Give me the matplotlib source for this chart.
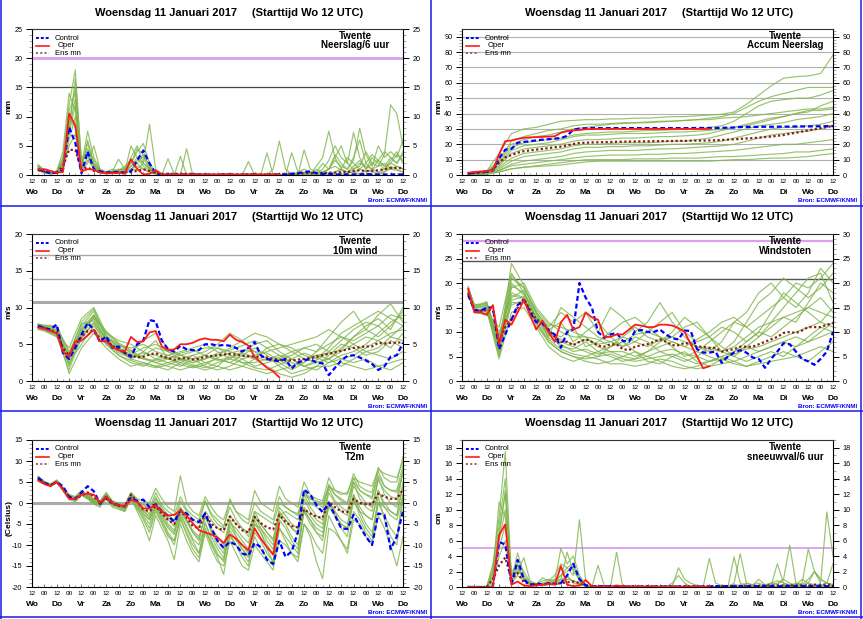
import numpy as np
import matplotlib
matplotlib.use("Agg")
import matplotlib.pyplot as plt
from matplotlib.lines import Line2D
from matplotlib.ticker import MultipleLocator

plt.rcParams['font.family'] = ['Liberation Sans', 'DejaVu Sans']
plt.rcParams['axes.unicode_minus'] = False

W, H = 863, 619

# ---------------- time axes ----------------
hours = np.arange(6, 361, 6)          # 6-hourly steps, +6h .. +360h
hours_oper = hours[:40]                # oper runs to +240h
hours_coarse = [6, 12, 24, 36, 48, 60, 72, 84, 96, 108, 120, 132, 144, 156, 168, 180,
                192, 204, 216, 228, 240, 252, 264, 276, 288, 300, 312, 324, 336, 348, 360]
hour_tick_pos = list(range(0, 361, 12))
hour_tick_labels = ['12', '00', '12', '00', '12', '00', '12', '00', '12', '00', '12', '00',
                    '12', '00', '12', '00', '12', '00', '12', '00', '12', '00', '12', '00',
                    '12', '00', '12', '00', '12', '00', '12']
day_pos = list(range(0, 361, 24))
day_labels = ['Wo', 'Do', 'Vr', 'Za', 'Zo', 'Ma', 'Di', 'Wo', 'Do', 'Vr', 'Za', 'Zo',
              'Ma', 'Di', 'Wo', 'Do']

# ---------------- Neerslag / 6 uur (mm) ----------------
precip_control = [1.0, 0.6, 0.3, 0.4, 0.8, 8.2, 5.5, 0.3, 4.0, 1.0,
                  0.6, 0.4, 0.5, 0.5, 0.4, 0.6, 2.5, 4.2, 2.0, 0.3,
                  0.1, 0.1, 0.1, 0.1, 0.1, 0.1, 0.1, 0.1, 0.0, 0.0,
                  0.1, 0.1, 0.0, 0.0, 0.1, 0.1, 0.0, 0.0, 0.1, 0.1,
                  0.1, 0.2, 0.3, 0.5, 0.6, 0.3, 0.2, 0.2, 0.1, 0.1,
                  0.1, 0.1, 0.1, 0.2, 0.1, 0.1, 0.1, 0.1, 0.1, 0.1]
precip_oper = [0.9, 1.0, 0.7, 0.4, 0.5, 10.5, 8.5, 0.6, 1.0, 0.9,
               0.4, 0.3, 0.3, 0.4, 0.2, 2.7, 1.0, 0.1, 0.2, 0.8,
               0.1, 0.1, 0.1, 0.1, 0.1, 0.1, 0.1, 0.1, 0.1, 0.1,
               0.1, 0.1, 0.1, 0.1, 0.1, 0.1, 0.1, 0.1, 0.1, 0.1]
precip_mean = [0.8, 0.6, 0.4, 0.4, 1.5, 4.3, 4.3, 1.0, 1.3, 0.7,
               0.5, 0.4, 0.4, 0.4, 0.5, 0.5, 0.7, 1.0, 0.7, 0.3,
               0.2, 0.2, 0.2, 0.2, 0.2, 0.2, 0.1, 0.1, 0.1, 0.1,
               0.1, 0.1, 0.1, 0.1, 0.1, 0.1, 0.1, 0.1, 0.1, 0.1,
               0.2, 0.2, 0.2, 0.3, 0.3, 0.3, 0.3, 0.4, 0.4, 0.5,
               0.5, 0.7, 0.8, 0.7, 0.7, 0.8, 1.0, 1.2, 1.2, 1.2]
precip_members = [
    [1.8, 0.8, 0.3, 0.6, 3.0, 12.0, 18.0, 2.0, 4.0, 1.5,
     0.8, 0.5, 0.6, 1.0, 0.8, 1.5, 3.0, 2.0, 8.7, 1.0,
     0.2, 0, 0, 0, 0, 0, 0, 0, 0, 0,
     0, 0, 0, 0, 0, 0.3, 0, 0, 1.0, 5.8,
     1.0, 0.2, 0.3, 0.5, 0.2, 1.5, 3.0, 7.5, 3.0, 1.0,
     0.5, 1.5, 2.5, 1.0, 2.0, 1.5, 3.5, 12.0, 10.5, 5.0],
    [1.2, 0.5, 0.2, 0.4, 2.0, 9.0, 15.0, 1.5, 7.5, 3.0,
     1.0, 0.4, 0.5, 0.7, 1.2, 2.0, 4.0, 5.4, 2.0, 0.5,
     0, 2.8, 0.2, 0, 0, 0, 0, 0, 0, 0,
     0, 0.2, 0, 0, 0, 0, 0, 0, 0, 0,
     0, 3.8, 0.5, 0.3, 0.2, 0.5, 2.0, 1.0, 3.0, 5.0,
     2.0, 7.3, 3.0, 1.0, 3.0, 2.0, 1.0, 2.5, 4.0, 2.0],
    [0.9, 0.4, 0.2, 0.3, 1.5, 7.0, 12.0, 1.0, 3.0, 2.0,
     0.5, 0.3, 0.4, 0.5, 0.6, 5.0, 3.0, 1.5, 0.8, 0.2,
     0, 0, 0, 0, 4.5, 0, 0, 0, 0, 0,
     0, 0, 0, 0, 2.3, 0, 0, 3.8, 0, 0,
     0, 0, 0, 4.3, 1.0, 0.5, 0.3, 1.0, 2.5, 1.5,
     1.0, 2.5, 8.0, 3.5, 1.5, 5.0, 3.0, 4.0, 3.0, 6.0],
    [1.4, 0.6, 0.3, 0.5, 2.5, 10.0, 8.0, 1.2, 5.5, 1.5,
     0.6, 0.3, 0.6, 2.7, 1.0, 1.0, 1.5, 1.0, 0.5, 0.3,
     0.1, 0, 0, 3.2, 0, 0, 0, 0, 0, 0,
     0.2, 0, 0, 0, 0, 0, 0, 0, 0, 0,
     0, 0, 0, 0, 0.5, 0.3, 1.0, 2.5, 5.0, 3.0,
     2.0, 1.0, 1.5, 4.0, 2.0, 2.5, 1.5, 2.0, 3.5, 2.5],
    [1.0, 0.5, 0.3, 0.4, 1.2, 6.0, 10.0, 0.8, 2.0, 5.0,
     1.0, 0.5, 0.3, 0.4, 0.5, 1.0, 2.0, 1.0, 0.5, 0.1,
     0, 0, 0, 0, 0, 0, 0, 0, 0, 0,
     0, 0, 0, 0, 0, 0, 0, 0, 0, 0,
     0, 0, 0, 0, 0, 0.2, 0.5, 1.0, 1.5, 0.8,
     0.5, 0.5, 1.0, 2.0, 1.0, 1.5, 2.0, 1.0, 1.5, 1.0],
    [1.6, 0.7, 0.4, 0.7, 4.0, 14.0, 11.0, 3.0, 3.5, 1.0,
     0.7, 0.6, 1.0, 0.6, 0.8, 3.0, 5.0, 2.0, 1.0, 0.4,
     0.1, 0, 0, 0, 0, 0, 0, 0, 0, 0,
     0, 0, 0, 0, 0, 0, 0, 0, 0, 0,
     0, 0, 0, 0, 0, 0, 0, 0, 0.5, 1.0,
     3.0, 2.0, 1.0, 0.5, 1.0, 2.5, 4.0, 3.0, 2.0, 3.5],
    [0.8, 0.3, 0.2, 0.3, 1.0, 5.0, 7.0, 0.7, 2.5, 1.2,
     0.4, 0.2, 0.3, 0.4, 0.4, 0.8, 1.0, 2.0, 1.2, 0.3,
     0, 0, 0, 0, 0, 0, 0, 0, 0, 0,
     0, 0, 0, 0, 0, 0, 0, 0, 0, 0,
     0, 0, 0, 0, 0, 0, 0, 0, 0, 0,
     0.3, 0.5, 0.2, 0.8, 0.5, 0.3, 0.6, 1.0, 0.8, 0.5],
    [1.3, 0.6, 0.3, 0.5, 2.2, 8.0, 13.0, 1.8, 4.5, 2.5,
     0.8, 0.4, 0.5, 0.8, 1.5, 2.5, 2.0, 3.5, 1.5, 0.3,
     0, 0, 0, 0, 0, 0, 0, 0, 0, 0,
     0, 0, 0, 0, 0, 0, 0, 0, 0, 0,
     0, 0, 0, 0, 0, 0, 0, 0, 0, 0,
     0, 0, 0, 0, 0, 0, 0.5, 1.5, 1.0, 0.5],
    [1.1, 0.5, 0.3, 0.4, 1.8, 11.0, 14.0, 1.0, 6.0, 2.0,
     0.5, 0.3, 0.4, 0.6, 0.5, 1.5, 2.5, 3.0, 1.0, 0.2,
     0, 0, 0, 0, 0, 0, 0, 0, 0, 0,
     0, 0, 0, 0, 0, 0, 0, 0, 0, 0,
     0, 0, 0.5, 1.0, 0.5, 0.2, 0.5, 1.0, 3.5, 2.0,
     1.0, 3.0, 6.0, 2.0, 3.5, 2.5, 1.5, 3.0, 2.0, 4.0],
    [1.5, 0.7, 0.4, 0.6, 2.8, 7.5, 16.5, 2.5, 3.5, 1.8,
     0.9, 0.5, 0.7, 0.9, 1.0, 2.0, 4.5, 3.5, 1.5, 0.4,
     0, 0, 0, 0, 0, 0, 0, 0, 0, 0,
     0, 0, 0, 0, 0, 0, 0, 0, 0, 0,
     0, 0, 0, 0, 0, 1.0, 0.5, 0.3, 0.5, 1.0,
     0.5, 1.0, 2.0, 1.5, 1.0, 0.5, 1.0, 2.0, 1.5, 1.0],
]

# ---------------- Accum Neerslag (mm) ----------------
accum_control = [1.0, 1.5, 2.0, 2.3, 3.0, 11.0, 16.5, 17.0, 21.0, 21.5,
                 22.0, 22.5, 23.0, 23.3, 23.7, 24.0, 25.5, 29.5, 30.2, 30.4,
                 30.5, 30.5, 30.5, 30.5, 30.5, 30.5, 30.5, 30.5, 30.5, 30.5,
                 30.5, 30.5, 30.5, 30.5, 30.5, 30.5, 30.5, 30.6, 30.6, 30.6,
                 30.6, 30.7, 30.8, 30.9, 31.2, 31.3, 31.3, 31.3, 31.4, 31.4,
                 31.4, 31.5, 31.5, 31.6, 31.6, 31.6, 31.7, 31.7, 31.8, 31.8]
accum_oper = [1.5, 2.0, 2.3, 2.7, 3.0, 13.5, 22.0, 22.5, 23.5, 24.2,
              24.5, 24.6, 24.8, 25.0, 25.2, 27.5, 28.5, 29.0, 29.3, 29.8,
              29.9, 30.0, 30.0, 30.0, 30.0, 30.0, 30.0, 30.0, 30.0, 30.0,
              30.0, 30.0, 30.0, 30.0, 30.0, 30.0, 30.0, 30.0, 30.0, 30.0]
accum_mean = [0.8, 1.3, 1.6, 2.0, 3.5, 8.0, 11.5, 13.0, 14.5, 15.5,
              16.0, 16.5, 17.0, 17.5, 18.0, 18.5, 19.2, 20.2, 20.8, 21.0,
              21.2, 21.3, 21.4, 21.5, 21.6, 21.7, 21.8, 21.8, 21.9, 21.9,
              22.0, 22.0, 22.1, 22.1, 22.2, 22.2, 22.3, 22.4, 22.4, 22.5,
              22.6, 22.8, 23.0, 23.2, 23.5, 23.8, 24.0, 24.3, 24.7, 25.0,
              25.5, 26.0, 26.8, 27.5, 28.3, 29.0, 29.8, 30.5, 31.2, 32.0]
accum_members = [
    [1.0, 1.5, 2.5, 14, 27, 30, 31, 33, 35, 35.5, 36, 36, 36.5, 36.5, 37, 37, 37.5, 38, 38, 38.5, 39, 39.5, 41, 46, 52, 58, 63, 64, 64.5, 66, 78],
    [0.8, 1, 2, 9, 20, 23, 25, 26, 28, 30, 31, 32, 33, 33.5, 34, 34, 34.5, 35, 35.5, 36, 37, 38, 40, 44, 48, 51, 53, 55, 57, 57, 57],
    [0.8, 1, 2, 8, 18, 21, 22, 23, 24, 26, 27, 27.5, 28, 28, 28.5, 29, 29, 29.5, 30, 30, 31, 32, 35, 40, 45, 48, 49, 50, 50, 52, 55],
    [0.4, 0.5, 1.5, 6, 14, 17, 18, 19, 20, 22, 23, 23, 23.5, 24, 24, 24.5, 25, 25, 25.5, 26, 27, 29, 31, 33, 35, 37, 38, 40, 42, 42, 43],
    [0.4, 0.5, 1.5, 5, 11, 14, 15, 16, 17, 19, 20, 20, 20.5, 21, 21, 21, 21.5, 22, 22, 23, 24, 26, 28, 30, 32, 33, 34, 36, 37, 38, 40],
    [0.4, 0.5, 1, 4, 9, 12, 13, 14, 15, 17, 18, 18, 18.5, 18.5, 19, 19, 19.5, 20, 20, 20.5, 21, 22, 24, 26, 28, 30, 31, 31, 32, 33, 35],
    [0.3, 0.5, 1, 3, 7, 9, 10, 11, 12, 14, 15, 15.5, 16, 16, 16, 16.5, 17, 17, 17.5, 18, 18.5, 19, 20, 22, 24, 26, 27, 28, 28.5, 30, 32],
    [0.2, 0.3, 1, 3, 6, 7, 8, 9, 10, 11, 12, 12.5, 13, 13, 13, 13.5, 13.5, 14, 14, 14.5, 15, 15.5, 16, 17, 18, 19, 20, 20, 21, 22, 23],
    [0.2, 0.3, 0.8, 2, 4, 5, 6, 7, 8, 9, 10, 10, 10, 10, 10.5, 10.5, 10.5, 11, 11, 11, 11.5, 12, 12, 12.5, 13, 13.5, 14, 15, 15, 16, 17],
    [0.1, 0.2, 0.5, 2, 4, 5, 5.5, 6, 6.5, 7.5, 8.5, 9, 9, 9, 9, 9, 9, 9, 9, 9, 9, 9.5, 10, 10, 10.5, 11, 11, 11.5, 12, 13, 14],
    [0.8, 1, 2, 10, 22, 25, 27, 29, 30, 32, 33, 33, 33.5, 34, 34, 34.5, 35, 35, 35.5, 36, 36, 37, 37.5, 38, 39, 40, 41, 42, 43, 43, 44],
    [0.6, 0.8, 1.8, 7, 16, 19, 20, 21, 23, 25, 26, 26, 26.5, 27, 27, 27, 27.5, 28, 28, 28.5, 29, 30, 31, 32, 34, 36, 38, 40, 41, 45, 48],
]

# ---------------- 10m wind (m/s) ----------------
wind_control = [7.5, 7.2, 7.0, 7.7, 3.8, 3.0, 4.5, 6.3, 7.9, 7.0,
                5.3, 6.1, 4.5, 4.7, 3.8, 3.3, 5.0, 5.5, 8.3, 8.1,
                5.5, 4.3, 4.0, 4.8, 4.3, 4.2, 4.2, 5.0, 5.0, 4.8,
                4.9, 4.8, 4.5, 4.0, 4.5, 5.3, 3.5, 3.0, 2.8, 2.7,
                3.0, 1.7, 2.5, 2.8, 3.0, 2.5, 2.4, 0.8, 1.8, 2.8,
                3.4, 3.5, 3.2, 2.8, 2.3, 1.5, 2.0, 3.3, 3.5, 5.2]
wind_oper = [7.3, 7.1, 6.8, 6.5, 4.0, 3.3, 5.4, 5.5, 6.2, 7.0,
             5.4, 5.4, 4.6, 4.2, 4.0, 6.0, 5.3, 5.4, 6.6, 6.8,
             4.7, 4.2, 4.3, 5.0, 5.0, 5.2, 5.6, 5.8, 5.6, 5.6,
             5.4, 6.3, 5.6, 5.3, 4.8, 3.3, 2.5, 1.8, 1.3, 0.5]
wind_mean = [7.4, 7.2, 6.9, 6.6, 4.5, 3.5, 5.0, 6.0, 6.8, 6.8,
             5.8, 5.5, 4.8, 4.3, 3.8, 3.5, 3.2, 3.3, 3.6, 3.8,
             3.4, 3.1, 2.9, 3.1, 3.1, 2.9, 3.0, 3.3, 3.4, 3.5,
             3.6, 3.7, 3.6, 3.4, 3.4, 3.3, 3.3, 3.2, 3.0, 2.9,
             2.8, 2.8, 2.9, 3.0, 3.1, 3.3, 3.5, 3.7, 3.9, 4.1,
             4.3, 4.5, 4.6, 4.7, 4.7, 5.2, 5.1, 5.2, 5.2, 5.3]
wind_members = [
    [7.6, 7.4, 7.0, 2.0, 7.5, 9.5, 6.0, 4.5, 3.0, 4.0, 5.5, 3.0, 2.5, 3.5, 4.0, 5.0, 6.5, 5.5, 4.0, 3.0, 2.5, 1.5, 2.5, 4.0, 6.0, 8.0, 9.5, 7.0, 9.0, 10.5, 8.0],
    [7.2, 7.0, 6.5, 4.5, 8.5, 10.0, 6.5, 5.0, 4.0, 5.5, 6.5, 4.5, 3.5, 3.0, 3.5, 4.5, 4.0, 3.5, 3.0, 4.5, 5.0, 4.0, 3.0, 2.5, 3.0, 4.5, 6.0, 7.5, 8.5, 7.0, 10.0],
    [7.8, 7.5, 7.2, 3.0, 6.0, 8.0, 5.5, 4.0, 3.5, 3.0, 2.5, 2.0, 1.5, 2.0, 2.5, 3.0, 2.5, 2.0, 1.5, 1.0, 1.5, 2.0, 3.0, 3.5, 3.0, 4.0, 5.0, 6.0, 5.5, 4.5, 6.5],
    [7.0, 6.8, 6.0, 3.5, 5.5, 7.0, 5.0, 3.5, 2.5, 2.0, 3.0, 3.5, 4.0, 4.5, 5.0, 4.0, 3.0, 4.0, 5.0, 5.5, 4.0, 3.0, 2.0, 1.5, 2.5, 3.5, 4.0, 5.0, 6.5, 8.0, 9.0],
    [7.5, 7.3, 6.8, 1.0, 4.5, 6.5, 4.5, 3.0, 2.0, 2.5, 2.0, 1.5, 2.5, 2.0, 1.5, 2.0, 3.5, 3.0, 2.0, 2.5, 3.0, 3.5, 4.5, 5.0, 4.0, 3.0, 2.5, 3.0, 2.0, 1.5, 2.5],
    [7.7, 7.6, 7.5, 4.0, 7.0, 8.5, 5.8, 4.8, 4.5, 5.0, 4.0, 3.5, 3.0, 2.5, 3.0, 3.5, 4.5, 5.5, 6.5, 6.0, 5.0, 4.5, 3.5, 3.0, 4.5, 6.5, 7.5, 8.5, 9.5, 8.5, 7.5],
    [7.3, 7.1, 6.3, 3.0, 6.5, 9.0, 6.5, 5.5, 5.0, 4.0, 3.0, 2.5, 2.0, 3.0, 3.5, 3.0, 2.5, 3.5, 4.5, 3.5, 2.0, 1.0, 1.5, 2.0, 3.5, 5.0, 4.5, 3.5, 4.0, 5.5, 4.5],
    [7.4, 7.2, 6.6, 2.5, 5.0, 7.5, 5.2, 3.8, 3.2, 3.5, 4.5, 4.0, 3.5, 4.0, 4.5, 4.5, 3.5, 2.5, 2.5, 3.0, 3.5, 3.0, 2.0, 2.5, 3.0, 2.0, 3.0, 4.0, 3.5, 3.0, 4.0],
    [7.6, 7.3, 6.9, 3.5, 8.0, 9.8, 6.0, 5.0, 3.8, 3.2, 2.5, 3.0, 3.5, 3.0, 2.0, 1.5, 2.0, 3.0, 3.5, 4.0, 4.5, 5.0, 5.5, 6.0, 7.0, 6.0, 5.5, 6.5, 7.5, 9.0, 8.5],
    [7.1, 6.9, 6.2, 2.8, 6.8, 8.8, 5.5, 4.2, 3.0, 2.5, 2.0, 2.5, 3.0, 3.5, 2.5, 2.0, 1.5, 2.0, 3.0, 2.0, 1.0, 0.5, 1.0, 2.0, 2.0, 2.5, 2.0, 1.5, 2.0, 2.5, 3.0],
    [7.5, 7.3, 6.7, 3.2, 7.2, 9.0, 6.2, 4.6, 3.6, 4.5, 5.0, 4.0, 3.0, 2.5, 3.0, 3.8, 4.2, 4.8, 5.5, 4.5, 3.5, 2.5, 2.0, 2.8, 4.0, 5.5, 7.0, 8.0, 7.5, 6.0, 5.5],
    [7.3, 7.2, 6.4, 2.2, 5.8, 7.8, 5.0, 3.5, 2.8, 2.2, 1.8, 2.2, 2.8, 2.2, 1.8, 2.5, 3.0, 2.5, 1.8, 1.5, 2.2, 3.0, 3.8, 3.2, 2.5, 3.0, 3.5, 4.5, 5.5, 6.5, 7.0],
    [7.6, 7.5, 7.3, 3.8, 7.8, 8.2, 5.6, 4.4, 3.4, 3.8, 3.5, 3.0, 3.8, 4.2, 3.5, 2.8, 3.2, 3.8, 3.2, 2.8, 3.2, 4.0, 4.5, 4.0, 5.0, 6.0, 5.0, 4.0, 4.5, 6.0, 7.5],
    [7.2, 7.0, 6.1, 1.5, 6.2, 8.6, 6.8, 5.2, 4.2, 3.0, 2.8, 3.2, 2.2, 1.8, 2.2, 3.2, 3.8, 4.2, 4.0, 3.8, 2.8, 2.0, 2.6, 3.5, 3.8, 4.2, 6.0, 7.0, 6.0, 7.5, 9.5],
]

# ---------------- Windstoten (m/s) ----------------
gust_control = [17.5, 14.5, 14.3, 15.0, 15.0, 6.5, 9.5, 12.5, 15.5, 16.5,
                14.0, 12.0, 11.8, 10.3, 9.5, 6.8, 10.0, 10.5, 20.0, 17.0,
                15.0, 10.0, 8.8, 9.5, 9.8, 8.2, 8.0, 10.2, 10.4, 10.0,
                10.0, 10.5, 9.5, 8.7, 8.5, 10.3, 10.2, 6.5, 5.8, 5.8,
                6.0, 3.7, 5.0, 5.8, 6.3, 5.8, 4.8, 4.5, 2.7, 4.5,
                6.0, 7.7, 7.5, 6.0, 4.5, 4.0, 3.3, 4.5, 6.0, 10.0]
gust_oper = [18.8, 14.0, 14.0, 13.5, 15.5, 7.5, 12.5, 11.5, 14.0, 16.5,
             13.5, 10.5, 12.3, 10.0, 8.0, 12.0, 13.5, 10.5, 11.0, 14.0,
             13.0, 12.5, 9.0, 9.0, 9.5, 9.5, 10.5, 11.5, 11.3, 11.0,
             11.0, 11.5, 11.5, 11.3, 10.8, 10.0, 7.5, 5.0, 2.6, 3.0]
gust_mean = [18.0, 14.5, 14.3, 14.5, 14.5, 8.0, 11.0, 12.5, 15.0, 16.8,
             14.5, 12.5, 12.0, 10.5, 9.0, 8.0, 8.0, 7.3, 8.0, 8.5,
             8.0, 7.2, 7.0, 7.5, 7.5, 6.5, 6.3, 7.0, 7.3, 7.5,
             8.0, 8.5, 8.0, 7.3, 7.3, 7.8, 7.5, 7.0, 7.0, 6.7,
             6.8, 6.0, 6.3, 6.5, 7.0, 7.0, 7.0, 7.5, 8.0, 8.5,
             9.0, 9.8, 10.0, 9.8, 10.3, 11.0, 11.0, 11.0, 11.5, 11.8]
gust_members = [
    [18.5, 15, 16, 6, 21, 19, 14, 11, 14, 12, 14, 10, 15, 13, 10, 12, 16, 12, 9, 7, 6, 8, 12, 14, 18, 20, 17, 15, 18, 23, 20],
    [17.5, 14.5, 14, 9, 18, 17, 13, 10, 8, 7, 6, 5, 7, 9, 11, 9, 8, 10, 13, 11, 9, 6, 5, 7, 9, 12, 15, 18, 21, 22, 16],
    [19, 15.5, 15, 5, 16, 16, 12, 8, 6, 5, 4, 3.5, 4, 5, 6, 5, 4, 3, 2.5, 3, 4, 5, 4, 5, 6, 7, 8, 9, 8, 10, 12],
    [18, 14, 13.5, 11, 22, 18, 14, 9, 15, 13, 11, 9, 8, 7, 8, 10, 12, 14, 10, 8, 9, 11, 10, 8, 10, 14, 18, 16, 14, 12, 15],
    [18.2, 14.8, 15.5, 7, 19, 20, 15, 12, 10, 9, 9, 7, 6, 6, 5, 6, 7, 8, 7, 6, 5, 4, 6, 8, 10, 9, 11, 13, 15, 17, 14],
    [17.8, 14.3, 14.5, 4.5, 14, 15, 11, 7, 5, 4, 5, 6, 7, 8, 6, 4, 3.5, 5, 6, 4, 3, 3.5, 4, 3, 4, 5, 6, 5, 4, 6, 8],
    [19.3, 15.2, 16.2, 8, 20, 17.5, 13.5, 10, 9, 11, 7, 8, 10, 12, 13, 11, 9, 7, 5, 6, 8, 10, 12, 11, 9, 11, 13, 12, 16, 20, 18],
    [18.6, 14.6, 14.8, 10, 17, 18.5, 12.5, 9.5, 7, 6.5, 8, 6, 5, 4, 4.5, 6, 8, 9, 11, 12, 9, 7, 5, 4, 5, 6, 5, 7, 9, 11, 10],
    [18.9, 15.6, 15.8, 6.5, 24, 19.5, 14, 10.5, 12, 8, 10, 12, 9, 7, 9, 8, 6, 5, 4, 5, 7, 6, 8, 12, 16, 18, 21, 19, 17, 19, 22],
    [17.6, 14.1, 13.8, 9.5, 15.5, 16.5, 12, 8.5, 6.5, 5.5, 5, 4.5, 3.5, 3.5, 3, 3.5, 4.5, 4, 3, 2.5, 3, 4.5, 3.5, 3, 3.5, 4, 4.5, 5, 6, 7, 6],
    [18.3, 14.9, 15.2, 7.5, 19.5, 18, 13, 9.8, 8.5, 7.5, 8.5, 7.5, 8, 9, 8, 7, 8.5, 9, 8, 7, 6.5, 6, 7, 9, 11, 12, 13, 14, 15, 14, 13],
    [18.0, 14.4, 14.6, 5.5, 17.5, 16.8, 12.8, 8.8, 7.5, 6, 6.5, 5.5, 6, 5, 4.5, 5, 6, 6.5, 5.5, 5, 4, 4.5, 5.5, 6.5, 7, 8, 9, 10, 11, 12, 11],
    [19.1, 15.4, 15.6, 8.5, 21.5, 19, 14.5, 11.5, 11, 10, 9, 8.5, 7, 8, 9.5, 10, 9, 8, 7, 8.5, 10, 12, 13, 11, 13, 15, 17, 20, 19, 21, 24],
    [17.9, 14.2, 14.2, 6.8, 16.5, 17.2, 11.5, 8, 6, 5, 4.5, 5, 5.5, 4.5, 4, 4.5, 5, 5.5, 4.5, 3.5, 4, 5, 6, 7, 6, 7, 8, 7, 8, 9, 10],
]

# ---------------- T2m (Celsius) ----------------
t2m_control = [6.0, 4.8, 4.2, 5.0, 4.0, 1.5, 1.0, 2.5, 4.0, 2.8,
               -0.2, 1.5, 0.0, -0.5, -0.8, 1.2, 0.5, 0.8, -1.0, -0.3,
               -2.0, -3.0, -4.5, -1.8, -2.5, -4.0, -4.5, -2.5, -6.0, -9.0,
               -10.7, -9.2, -10.0, -12.0, -12.5, -9.5, -10.5, -13.5, -14.5, -9.0,
               -12.8, -11.5, -7.0, 3.2, 2.0, -0.5, -2.2, 0.0, -3.0, -6.0,
               -6.2, -2.8, -5.5, -8.0, -10.0, -2.5, -2.8, -11.0, -8.0, -2.0]
t2m_oper = [5.3, 4.5, 4.0, 5.0, 3.2, 1.0, 1.0, 2.0, 2.2, 2.0,
            0.0, 1.5, 0.0, -0.5, -0.8, 0.7, 0.3, -1.3, -1.3, -0.5,
            -2.0, -3.0, -2.8, -1.8, -3.0, -4.8, -6.5, -7.0, -7.5, -8.2,
            -9.5, -7.5, -8.5, -10.0, -11.3, -6.0, -8.5, -10.5, -12.3, -4.8]
t2m_mean = [5.8, 4.6, 4.2, 5.0, 3.3, 1.3, 1.0, 1.8, 2.5, 1.5,
            0.2, 1.0, -0.2, -0.6, -0.8, 2.0, 0.3, -1.5, -2.0, -0.8,
            -2.5, -4.0, -5.0, -1.8, -3.5, -5.5, -6.0, -2.5, -5.0, -6.0,
            -6.5, -3.2, -5.0, -6.5, -7.0, -3.3, -4.8, -5.8, -6.3, -2.8,
            -4.5, -5.5, -5.8, -1.5, -2.5, -3.3, -3.5, 0.2, -1.0, -2.0,
            -2.2, 1.0, 0.0, -0.3, -0.3, 2.2, 1.5, 1.0, 1.0, 3.2]
t2m_members = [
    [6.0, 5.0, 4.3, 5.2, 3.5, 1.5, 1.0, 2.5, 1.5, 0.5, 0.0, 1.5, 0.0, -0.5, -1.0, 2.0,
     0.5, -0.5, -1.0, 1.0, -1.0, -3.0, -4.0, -1.0, -3.0, -5.0, -6.0, -2.0, -4.0, -6.0, -7.0, -3.0,
     -5.0, -6.0, -7.0, -2.0, -3.0, -4.0, -5.0, 0.0, -1.0, -2.0, -2.5, 2.0, 1.0, 0.5, 0.0, 4.0,
     3.0, 2.0, 2.5, 6.0, 5.0, 4.5, 4.0, 8.0, 7.0, 6.5, 6.0, 10.0],
    [6.2, 4.8, 4.0, 5.0, 3.0, 1.0, 0.5, 2.0, 1.0, 0.0, -0.5, 1.0, -0.5, -1.0, -2.0, 1.0,
     -1.0, -4.0, -7.0, -2.0, -5.0, -8.0, -9.0, -4.0, -7.0, -10.0, -12.0, -6.0, -10.0, -13.0, -17.0, -8.0,
     -10.0, -12.0, -14.0, -8.0, -11.0, -13.0, -15.0, -9.0, -10.0, -12.0, -13.0, -5.0, -8.0, -14.0, -18.0, -6.0,
     -7.0, -9.0, -12.0, -4.0, -5.0, -8.0, -10.0, -3.0, -6.0, -10.0, -15.0, -8.0],
    [5.5, 4.5, 4.0, 5.3, 3.2, 1.2, 0.8, 2.2, 1.2, 0.2, -0.3, 1.8, 0.0, -1.0, -1.5, 1.5,
     0.0, -2.0, -3.0, 0.0, -2.0, -4.0, -5.5, -1.5, -4.0, -6.5, -8.0, -3.5, -6.0, -8.0, -10.0, -4.0,
     -7.0, -9.0, -11.0, -3.0, -6.0, -9.0, -11.0, -2.0, -4.0, -6.0, -7.0, 1.0, -2.0, -4.0, -5.0, 2.5,
     0.0, -2.0, -3.0, 4.0, 2.0, 0.0, -1.0, 5.5, 3.0, 1.5, 1.0, 7.5],
    [5.8, 4.7, 4.2, 5.1, 3.6, 1.8, 1.2, 2.8, 1.8, 0.8, 0.3, 2.0, 0.3, -0.3, -0.8, 2.2,
     0.2, -1.5, -2.5, 1.5, -1.5, -3.5, -4.5, 0.5, -2.0, -4.0, -5.0, 0.5, -3.0, -5.0, -6.0, 1.0,
     -2.0, -3.0, -4.0, 3.0, 0.0, -1.0, -2.0, 4.0, 1.0, 0.0, -1.0, 5.0, 2.0, 1.0, 0.5, 6.0,
     3.0, 2.5, 2.0, 7.0, 4.0, 3.0, 2.5, 8.5, 6.0, 5.0, 5.0, 11.0],
    [6.4, 5.2, 4.5, 5.5, 3.0, 0.8, 0.3, 1.8, 1.0, -0.3, -1.0, 1.0, -1.0, -1.5, -2.0, 1.0,
     -2.0, -5.0, -9.0, -3.0, -6.0, -9.0, -13.5, -5.0, -9.0, -12.0, -14.0, -7.0, -11.0, -14.0, -15.0, -9.0,
     -12.0, -15.0, -16.0, -10.0, -12.0, -14.0, -16.0, -6.0, -8.0, -10.0, -12.0, -2.0, -5.0, -7.0, -8.0, 0.0,
     -3.0, -5.0, -6.0, 2.0, -2.0, -3.0, -4.0, 3.0, -1.0, -2.0, -3.0, 4.0],
    [5.7, 4.6, 4.1, 4.8, 3.3, 1.4, 0.9, 2.4, 1.4, 0.4, -0.2, 1.7, -0.3, -0.8, -1.2, 1.8,
     -0.5, -3.0, -5.0, -1.0, -3.5, -6.0, -7.5, -2.5, -5.5, -8.5, -10.0, -5.0, -8.0, -11.0, -13.0, -6.5,
     -9.0, -11.0, -12.5, -5.0, -6.0, -8.0, -10.0, -1.0, -3.0, -5.0, -6.0, 2.0, -1.0, -3.0, -4.0, 3.5,
     0.5, -1.0, -2.0, 5.0, 1.0, -1.0, -2.0, 6.0, 2.0, 0.0, -1.0, 8.0],
    [6.1, 5.1, 4.4, 5.4, 3.8, 2.0, 1.5, 3.0, 2.0, 1.0, 0.5, 2.5, 0.5, 0.0, -0.5, 2.5,
     1.0, 0.5, 0.0, 3.5, 1.0, -1.0, -2.0, 6.5, 0.0, -2.0, -3.0, 1.5, -1.0, -3.0, -4.0, 0.5,
     -2.0, -4.0, -5.0, 0.0, -2.0, -3.0, -4.0, 1.5, -1.0, -2.0, -3.0, 3.0, 0.0, -1.0, -2.0, 4.5,
     2.0, 1.0, 0.0, 6.0, 3.0, 2.0, 1.5, 7.5, 4.0, 3.0, 3.0, 9.0],
    [5.9, 4.9, 4.3, 5.0, 3.4, 1.6, 1.1, 2.6, 1.6, 0.6, 0.1, 1.9, 0.2, -0.4, -1.0, 1.5,
     -1.0, -2.5, -4.0, -0.5, -4.0, -7.0, -9.0, -3.0, -6.0, -9.0, -12.0, -4.5, -9.0, -12.0, -14.0, -5.5,
     -8.0, -10.0, -12.0, -4.0, -7.0, -11.0, -14.0, -4.0, -6.0, -9.0, -11.0, -1.5, -4.0, -7.0, -9.0, 0.0,
     -2.0, -6.0, -8.0, 1.0, -3.0, -6.0, -8.0, 1.5, -4.0, -8.0, -10.0, 1.0],
    [6.0, 4.9, 4.2, 5.1, 3.3, 1.3, 0.9, 2.3, 1.3, 0.3, -0.2, 1.6, -0.2, -0.8, -1.3, 1.7,
     -0.3, -2.5, -4.0, -0.5, -3.0, -5.5, -7.0, -2.0, -4.5, -7.0, -8.5, -3.0, -6.5, -9.0, -11.0, -5.0,
     -6.0, -8.0, -9.5, -3.5, -5.0, -7.0, -8.5, -2.5, -4.0, -6.0, -7.5, -1.0, -3.0, -5.0, -6.0, 0.5,
     -2.0, -4.0, -5.0, 2.0, -1.0, -3.0, -4.0, 3.0, 0.0, -2.0, -3.0, 5.0],
    [5.6, 4.6, 4.1, 5.0, 3.4, 1.5, 1.0, 2.6, 1.5, 0.5, 0.0, 1.8, 0.1, -0.5, -1.2, 2.0,
     0.0, -1.8, -3.5, 0.5, -2.5, -5.0, -6.5, -1.0, -4.0, -7.0, -9.0, -2.5, -7.0, -10.0, -12.0, -4.0,
     -8.0, -11.0, -13.0, -5.0, -7.0, -10.0, -12.0, -3.0, -2.0, -3.0, -4.0, 3.0, 1.0, 0.0, -1.0, 4.0,
     2.0, 0.5, 0.0, 5.0, 3.0, 2.0, 1.0, 6.5, 4.0, 3.0, 2.5, 7.0],
    [6.3, 5.0, 4.4, 5.3, 3.7, 1.9, 1.4, 2.9, 1.9, 0.9, 0.4, 2.3, 0.4, -0.2, -0.6, 2.3,
     0.5, -0.5, -1.5, 2.5, -0.5, -2.0, -3.0, 1.5, -1.5, -3.0, -4.0, 0.5, -2.5, -4.0, -5.5, -1.0,
     -4.0, -6.0, -8.0, -2.0, -5.0, -7.0, -9.0, -3.0, -5.0, -8.0, -10.0, -2.0, -4.0, -6.0, -7.0, -1.0,
     -3.0, -5.0, -6.0, 0.5, -2.0, -5.0, -7.0, 0.0, -1.0, -3.0, -4.0, 2.0],
    [5.9, 4.8, 4.2, 5.2, 3.1, 1.1, 0.6, 2.1, 1.1, 0.1, -0.6, 1.3, -0.6, -1.2, -1.8, 1.2,
     -1.5, -3.5, -6.0, -1.5, -4.5, -7.5, -10.0, -3.5, -7.5, -11.0, -13.0, -6.5, -9.5, -12.5, -13.5, -7.5,
     -10.0, -13.0, -15.0, -7.0, -9.0, -12.0, -14.0, -6.0, -9.0, -12.0, -14.0, -5.0, -7.0, -10.0, -12.0, -3.0,
     -6.0, -9.0, -11.0, -2.0, -4.0, -7.0, -9.0, 0.0, -3.0, -6.0, -8.0, 2.0],
]

# ---------------- sneeuwval / 6 uur (cm) ----------------
snow_control = [0, 0, 0, 0, 0.1, 5.8, 5.5, 0.3, 3.5, 1.0,
                0.2, 0.5, 0.3, 0.5, 0.4, 0.5, 1.5, 3.0, 1.0, 0.2,
                0.1, 0.1, 0.1, 0.1, 0.1, 0.1, 0.05, 0.05, 0.05, 0.05,
                0.05, 0.05, 0.05, 0.05, 0.05, 0.05, 0.05, 0.05, 0.05, 0.05,
                0.1, 0.1, 0.1, 0.1, 0.1, 0.1, 0.1, 0.1, 0.1, 0.1,
                0.1, 0.1, 0.1, 0.1, 0.1, 0.1, 0.1, 0.1, 0.1, 0.1]
snow_oper = [0, 0, 0, 0, 0, 6.7, 8.1, 0.3, 0.7, 0.2,
             0.1, 0.2, 0.3, 0.4, 0.3, 2.7, 0.3, 0.1, 0.2, 0.9,
             0.1, 0.05, 0.05, 0.05, 0.2, 0.1, 0.05, 0.05, 0.05, 0.05,
             0.05, 0.05, 0.05, 0.05, 0.05, 0.05, 0.05, 0.05, 0.05, 0.05]
snow_mean = [0, 0, 0, 0, 1.0, 2.8, 3.8, 1.0, 1.8, 0.6,
             0.4, 0.3, 0.3, 0.4, 0.4, 0.5, 0.6, 0.7, 0.5, 0.2,
             0.1, 0.1, 0.1, 0.1, 0.1, 0.1, 0.1, 0.1, 0.1, 0.1,
             0.1, 0.1, 0.1, 0.1, 0.1, 0.1, 0.1, 0.1, 0.1, 0.1,
             0.1, 0.1, 0.1, 0.1, 0.15, 0.15, 0.15, 0.15, 0.2, 0.2,
             0.2, 0.2, 0.2, 0.2, 0.2, 0.2, 0.3, 0.3, 0.3, 0.3]
snow_members = [
    [0, 0, 0, 0, 3.0, 9.0, 17.5, 1.0, 4.4, 1.5,
     0.5, 0.3, 0.5, 0.8, 1.0, 1.5, 2.5, 1.5, 8.7, 0.8,
     0.1, 0, 0, 0, 0, 0, 0, 0, 0, 0,
     0, 0, 0, 0, 0, 0, 0, 0, 0, 3.7,
     0.5, 0.2, 0.2, 0.3, 0.2, 0.5, 0.3, 0.5, 0.2, 0.3,
     0.5, 1.0, 5.4, 0.5, 0.3, 1.0, 2.0, 0.5, 9.7, 4.0],
    [0, 0, 0, 0, 2.0, 7.0, 12.0, 0.8, 2.0, 3.8,
     0.8, 0.4, 0.3, 0.6, 0.8, 5.0, 3.0, 4.0, 1.5, 0.3,
     0, 2.8, 0.2, 0, 0, 0, 0, 0, 0, 0,
     0, 0, 0, 0, 2.5, 1.0, 0.5, 0.2, 0, 0,
     0, 0, 0, 3.9, 0.5, 0.2, 0.1, 0.2, 0.3, 0.5,
     0.8, 0.5, 0.3, 0.2, 0.5, 4.9, 2.0, 1.0, 0.5, 3.0],
    [0, 0, 0, 0, 1.5, 6.0, 10.0, 0.5, 3.0, 1.0,
     0.3, 0.2, 0.4, 0.5, 0.6, 1.0, 4.5, 2.0, 1.0, 0.2,
     0, 0, 0, 0, 4.5, 0, 0, 0, 0, 0,
     0, 0, 0, 0.5, 1.5, 0.5, 0, 0, 0, 0,
     0, 0, 0, 0.5, 4.3, 0.5, 0.2, 1.0, 0.3, 0.2,
     3.0, 0.5, 0.2, 0.3, 1.0, 0.5, 2.0, 1.0, 0.5, 0.3],
    [0, 0, 0, 0, 1.0, 5.0, 8.0, 1.5, 2.5, 1.0,
     0.5, 0.2, 0.3, 0.4, 0.5, 0.8, 1.0, 0.8, 0.4, 0.2,
     0, 0, 0, 0, 0, 0, 0, 0, 0, 0,
     0, 0, 0, 0, 0, 0, 0, 0, 0, 0,
     0, 0, 0, 0, 0, 0, 0, 0, 0.2, 0.5,
     0.3, 1.0, 0.5, 0.2, 0.3, 0.5, 0.3, 0.2, 0.5, 0.3],
    [0, 0, 0, 0, 0.5, 4.0, 6.0, 0.5, 1.5, 0.8,
     0.3, 0.2, 0.2, 0.3, 0.3, 0.5, 1.5, 0.5, 0.3, 0.1,
     0, 0, 0, 0, 0, 0, 0, 0, 0, 0,
     0, 0, 0, 0, 0, 0, 0, 0, 0, 0,
     0, 0, 0, 0, 0, 0, 0, 0, 0, 0,
     0, 0, 0, 0.2, 0.1, 0, 0.3, 0.2, 0.1, 0.2],
    [0, 0, 0, 0, 2.5, 8.0, 14.0, 1.2, 3.5, 2.0,
     0.6, 0.3, 1.2, 0.8, 1.5, 3.0, 2.5, 3.0, 1.2, 0.3,
     0.1, 0, 0, 0, 0, 0, 0, 0, 0, 0,
     0, 0, 0, 0, 0, 0, 0, 0, 0, 0,
     0, 0, 0, 0, 0, 0, 0, 0, 0, 0,
     0, 0, 0, 0, 0, 0, 0, 0, 0, 0],
    [0, 0, 0, 0, 1.8, 11.0, 9.0, 2.0, 2.8, 1.2,
     0.4, 0.3, 0.8, 1.0, 0.6, 1.5, 2.0, 2.7, 0.8, 0.2,
     0, 0, 0, 0, 0, 0, 0, 0, 0, 0,
     0, 0, 0, 0, 0, 0, 0, 0, 0, 0,
     0, 0, 0, 0, 0, 0, 0, 0, 0, 0,
     0, 0.3, 0.2, 0.5, 0.3, 0, 0, 0, 0, 0],
    [0, 0, 0, 0, 1.2, 6.5, 12.5, 0.8, 2.2, 1.0,
     0.3, 0.2, 0.3, 0.5, 0.8, 1.0, 1.2, 0.8, 0.6, 0.1,
     0, 0, 0, 0, 0, 0, 0, 0, 0, 0,
     0, 0, 0, 0, 0, 0, 0, 0, 0, 0,
     0, 0, 0, 0, 0, 0, 0, 0, 0, 0,
     0, 0, 0, 0, 0, 0, 0, 0, 0, 0],
]

title_left = 'Woensdag 11 Januari 2017'
title_right = '(Starttijd Wo 12 UTC)'
station = 'Twente'
legend_labels = ['Control', 'Oper', 'Ens mn']
source_text = 'Bron: ECMWF/KNMI'

VIOLET = '#dd9ef0'
panels = [
    dict(col=0, row=0, members=precip_members, mhours=hours, ctrl=precip_control,
         oper=precip_oper, mean=precip_mean, ylim=(0, 25), ytop=25, major=5, minor=1,
         ylabel='mm', name='Neerslag/6 uur',
         hlines=[(15, '#444444', 0.9), (20, VIOLET, 2.0)]),
    dict(col=1, row=0, members=accum_members, mhours=hours_coarse, ctrl=accum_control,
         oper=accum_oper, mean=accum_mean, ylim=(0, 95), ytop=90, major=10, minor=2,
         ylabel='mm', name='Accum Neerslag',
         hlines=[(v, '#b0b0b0', 0.8) for v in (10, 20, 30, 40, 50, 60, 70, 80, 90)]),
    dict(col=0, row=1, members=wind_members, mhours=hours_coarse, ctrl=wind_control,
         oper=wind_oper, mean=wind_mean, ylim=(0, 20), ytop=20, major=5, minor=1,
         ylabel='m/s', name='10m wind',
         hlines=[(10.8, '#aaaaaa', 2.2), (13.9, '#aaaaaa', 1.0), (17.2, '#aaaaaa', 1.0)]),
    dict(col=1, row=1, members=gust_members, mhours=hours_coarse, ctrl=gust_control,
         oper=gust_oper, mean=gust_mean, ylim=(0, 30), ytop=30, major=5, minor=1,
         ylabel='m/s', name='Windstoten',
         hlines=[(20.8, '#555555', 1.0), (24.5, '#555555', 1.0), (28.5, VIOLET, 1.6)]),
    dict(col=0, row=2, members=t2m_members, mhours=hours, ctrl=t2m_control,
         oper=t2m_oper, mean=t2m_mean, ylim=(-20, 15), ytop=15, major=5, minor=1,
         ylabel='(Celsius)', name='T2m',
         hlines=[(0, '#aaaaaa', 2.2)]),
    dict(col=1, row=2, members=snow_members, mhours=hours, ctrl=snow_control,
         oper=snow_oper, mean=snow_mean, ylim=(0, 19), ytop=18, major=2, minor=1,
         ylabel='cm', name='sneeuwval/6 uur',
         hlines=[(5, VIOLET, 1.3)]),
]

GREEN = '#7db44a'
BLUE = '#0000ff'
RED = '#ff1a1a'
MEANC = '#8b1a1a'
FRAME = '#1a1ae6'

fig = plt.figure(figsize=(W / 100, H / 100), dpi=100)
fig.patch.set_facecolor('white')


def fx(px):
    return px / W


def fy(py):
    return 1 - py / H


def fig_text(x, y, s, **kw):
    fig.text(fx(x), fy(y), s, **kw)


def fig_line(x0, x1, y0, y1, **kw):
    fig.add_artist(Line2D([fx(x0), fx(x1)], [fy(y0), fy(y1)],
                          transform=fig.transFigure, **kw))


row_off = [0, 205, 410]
row_tb = [(29, 175), (234, 381), (440, 587)]
bron_y = [200, 201, 202]

for p in panels:
    px0 = 430 * p['col']
    py0 = row_off[p['row']]
    T, B = row_tb[p['row']]
    L, R = px0 + 32, px0 + 403
    ax = fig.add_axes([fx(L), fy(B), (R - L) / W, (B - T) / H])
    ax.set_xlim(0, 360)
    ax.set_ylim(*p['ylim'])
    for v, c, lw in p['hlines']:
        ax.axhline(v, color=c, lw=lw, zorder=1)
    for m in p['members']:
        ax.plot(p['mhours'][:len(m)], m, color=GREEN, lw=0.85, alpha=0.8, zorder=2)
    ax.plot(hours, p['mean'], color=MEANC, lw=1.6, linestyle=(0, (1, 1.1)), zorder=4)
    ax.plot(hours, p['ctrl'], color=BLUE, lw=1.6, linestyle=(0, (2.2, 1.3)), zorder=5)
    ax.plot(hours_oper, p['oper'], color=RED, lw=1.3, zorder=6)

    ax.set_xticks(hour_tick_pos)
    ax.set_xticklabels(hour_tick_labels, fontsize=4.6)
    ax.xaxis.set_minor_locator(MultipleLocator(6))
    ax.tick_params(axis='x', which='major', direction='in', length=2.5, width=0.6,
                   color='#555555', pad=3.2)
    ax.tick_params(axis='x', which='minor', direction='in', length=1.5, width=0.5,
                   color='#888888')
    y0 = p['ylim'][0]
    ax.set_yticks(np.arange(y0, p['ytop'] + 0.01, p['major']))
    ax.yaxis.set_minor_locator(MultipleLocator(p['minor']))
    ax.tick_params(axis='y', which='major', direction='out', length=4.5, width=0.7,
                   labelsize=5.2, left=True, right=True, labelleft=True,
                   labelright=True, pad=2.5)
    ax.tick_params(axis='y', which='minor', direction='out', length=2.2, width=0.6,
                   color='#999999', left=True, right=True)
    for s in ax.spines.values():
        s.set_linewidth(0.8)
    ax.spines['top'].set_color('#333333')

    for h, d in zip(day_pos, day_labels):
        ax.annotate(d, xy=(h, 0), xycoords=('data', 'axes fraction'),
                    xytext=(0, -17 * 0.72), textcoords='offset points',
                    ha='center', va='center', fontsize=6.0, fontweight='bold',
                    annotation_clip=False)

    # titles and texts
    fig_text(px0 + 95, py0 + 12.5, title_left, ha='left', va='center',
             fontsize=8, fontweight='bold')
    fig_text(px0 + 252, py0 + 12.5, title_right, ha='left', va='center',
             fontsize=8, fontweight='bold')
    fig_text(px0 + 355, T + 7, station, ha='center', va='center',
             fontsize=7, fontweight='bold')
    fig_text(px0 + 355, T + 16.5, p['name'], ha='center', va='center',
             fontsize=7, fontweight='bold')
    fig_text(px0 + 9, (T + B) / 2 + 4, p['ylabel'], rotation=90, ha='center',
             va='center', fontsize=6, fontweight='bold')
    fig_text(px0 + 427, py0 + bron_y[p['row']], source_text, ha='right', va='center',
             fontsize=4.5, fontweight='bold', color=BLUE)

    # legend
    leg_styles = [dict(color=BLUE, lw=1.4, linestyle=(0, (1.5, 1.0))),
                  dict(color=RED, lw=1.2),
                  dict(color='#a05a5a', lw=1.4, linestyle=(0, (1, 1.2)))]
    leg_text_x = [23, 26, 23]
    for i, (lab, st) in enumerate(zip(legend_labels, leg_styles)):
        yy = T + 9 + 7.6 * i
        fig_line(L + 4, L + 17, yy, yy, **st)
        fig_text(L + leg_text_x[i], yy, lab, ha='left', va='center', fontsize=5.5)

# blue panel frames
fw = 1.1
fig_line(431, 431, 0, 619, color=FRAME, lw=fw)
fig_line(0, 863, 205.5, 205.5, color=FRAME, lw=fw)
fig_line(0, 863, 411, 411, color=FRAME, lw=fw)
fig_line(1, 1, 0, 619, color=FRAME, lw=fw)
fig_line(861, 861, 0, 619, color=FRAME, lw=fw)
fig_line(0, 863, 617, 617, color=FRAME, lw=fw)

fig.savefig('out.png', dpi=100)
